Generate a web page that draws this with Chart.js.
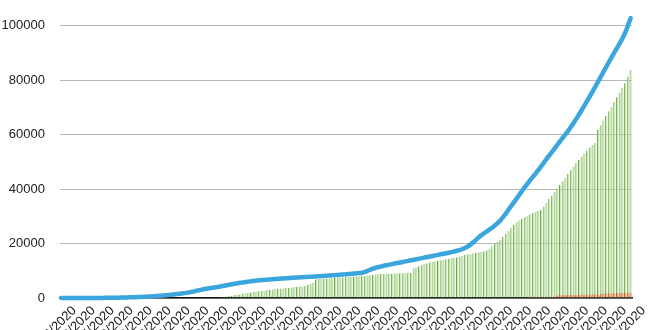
<!DOCTYPE html>
<html>
<head>
<meta charset="utf-8">
<script src="https://cdn.jsdelivr.net/npm/chart.js@4.4.1/dist/chart.umd.min.js"></script>
<style>
  html, body { margin: 0; padding: 0; background: #fff; overflow: hidden; }
  #wrap { width: 660px; height: 330px; position: relative; }
</style>
</head>
<body>
<div id="wrap"><canvas id="myChart"></canvas></div>
<script>
// daily values, 1/22/2020 .. 8/19/2020
const startDate = '2020-01-22';
const dayCount = 211;

// tick labels, one every 7 days
const weekLabels = [
    '1/22/2020', '1/29/2020', '2/5/2020', '2/12/2020', '2/19/2020', '2/26/2020',
    '3/4/2020', '3/11/2020', '3/18/2020', '3/25/2020', '4/1/2020', '4/8/2020',
    '4/15/2020', '4/22/2020', '4/29/2020', '5/6/2020', '5/13/2020', '5/20/2020',
    '5/27/2020', '6/3/2020', '6/10/2020', '6/17/2020', '6/24/2020', '7/1/2020',
    '7/8/2020', '7/15/2020', '7/22/2020', '7/29/2020', '8/5/2020', '8/12/2020',
    '8/19/2020'
];

// blue line
const totalCases = [
    0, 0, 0, 1, 2, 3, 4, 6, 8, 10,
    13, 17, 22, 28, 35, 42, 50, 60, 72, 85,
    100, 120, 145, 170, 200, 230, 265, 300, 340, 385,
    430, 480, 530, 590, 650, 710, 790, 870, 960, 1050,
    1150, 1260, 1370, 1480, 1600, 1720, 1880, 2050, 2250, 2450,
    2700, 2900, 3100, 3300, 3480, 3650, 3800, 3950, 4100, 4300,
    4500, 4700, 4900, 5080, 5250, 5420, 5580, 5730, 5880, 6020,
    6150, 6280, 6400, 6500, 6600, 6680, 6750, 6830, 6900, 6980,
    7050, 7120, 7190, 7260, 7330, 7400, 7460, 7520, 7580, 7640,
    7700, 7760, 7820, 7880, 7940, 8000, 8060, 8120, 8190, 8260,
    8330, 8400, 8480, 8560, 8640, 8720, 8800, 8880, 8960, 9050,
    9150, 9300, 9600, 10000, 10400, 10800, 11100, 11350, 11600, 11850,
    12050, 12250, 12450, 12650, 12850, 13050, 13250, 13450, 13650, 13850,
    14050, 14250, 14450, 14650, 14850, 15050, 15250, 15450, 15650, 15850,
    16050, 16250, 16450, 16650, 16850, 17100, 17350, 17650, 18000, 18450,
    19000, 19700, 20500, 21400, 22300, 23100, 23800, 24500, 25200, 25900,
    26700, 27600, 28600, 29800, 31100, 32500, 33900, 35200, 36600, 38000,
    39400, 40800, 42100, 43400, 44600, 45800, 47100, 48400, 49700, 51100,
    52400, 53700, 55000, 56300, 57600, 58900, 60200, 61500, 62900, 64400,
    65900, 67500, 69100, 70800, 72500, 74200, 75900, 77700, 79500, 81300,
    83100, 84900, 86700, 88500, 90200, 91900, 93600, 95400, 97500, 100100, 102800
];

// green bars
const greenBars = [
    0, 0, 0, 0, 0, 0, 0, 0, 0, 0,
    0, 0, 0, 0, 0, 0, 0, 0, 0, 0,
    0, 0, 0, 0, 0, 0, 0, 0, 0, 0,
    0, 0, 0, 0, 0, 0, 0, 0, 0, 0,
    0, 0, 0, 0, 0, 0, 0, 0, 0, 0,
    0, 0, 0, 0, 0, 0, 100, 150, 200, 300,
    400, 550, 700, 900, 1100, 1250, 1400, 1550, 1700, 1900,
    2050, 2200, 2350, 2500, 2650, 2800, 2900, 3000, 3150, 3300,
    3400, 3500, 3600, 3700, 3800, 3900, 4000, 4100, 4200, 4300,
    4500, 4800, 5200, 5600, 6900, 7000, 7100, 7150, 7200, 7250,
    7300, 7400, 7500, 7600, 7650, 7700, 7750, 7800, 7850, 7950,
    8000, 8050, 8100, 8300, 8400, 8500, 8650, 8800, 8850, 8900,
    8950, 9000, 9000, 9050, 9050, 9100, 9100, 9100, 9150, 9150,
    10900, 11300, 11700, 12100, 12500, 12800, 13100, 13300, 13500, 13700,
    13900, 14050, 14200, 14400, 14600, 14800, 15000, 15200, 15500, 15800,
    16000, 16200, 16400, 16600, 16800, 17000, 17200, 17500, 18200, 19000,
    19800, 20600, 21300, 22400, 23500, 24700, 25800, 26800, 27800, 28500,
    29200, 29800, 30300, 30800, 31300, 31700, 32000, 32300, 33600, 35000,
    36400, 37600, 38900, 40300, 41600, 42900, 44200, 45600, 47000, 48300,
    49600, 50800, 52000, 53100, 54200, 55200, 56200, 56900, 61800, 63500,
    65200, 66900, 68600, 70300, 72000, 73700, 75400, 77200, 78900, 81300, 83800
];

// orange bars
const orangeBars = [
    0, 0, 0, 0, 0, 0, 0, 0, 0, 0, 0, 0, 0, 0, 0,
    0, 0, 0, 0, 0, 0, 0, 0, 0, 0, 0, 0, 0, 0, 0,
    0, 0, 0, 0, 0, 0, 0, 0, 0, 0, 0, 0, 0, 0, 0,
    0, 0, 0, 0, 0, 0, 0, 0, 0, 0, 0, 0, 0, 0, 0,
    0, 0, 0, 0, 0, 0, 0, 0, 0, 0, 0, 0, 0, 0, 0,
    0, 0, 0, 0, 0, 0, 0, 0, 0, 0, 0, 0, 0, 0, 0,
    0, 0, 0, 0, 0, 0, 0, 0, 0, 0, 0, 0, 0, 0, 0,
    0, 0, 0, 0, 0, 0, 0, 0, 0, 0, 0, 0, 0, 0, 0,
    0, 0, 0, 0, 0, 0, 0, 0, 0, 0, 0, 0, 0, 0, 0,
    0, 0, 0, 0, 0, 0, 0, 0, 0, 0, 0, 0, 0, 0, 0,
    0, 0, 0, 0, 0, 0, 0, 0, 0, 0, 0, 0, 0, 0, 0,
    250, 260, 270, 280, 290, 300, 310, 320, 330, 340,
    350, 360, 370, 380, 400, 420, 440, 460,
    1000, 1050, 1080, 1100, 1120, 1150, 1170, 1200, 1220, 1250,
    1280, 1300, 1320, 1350, 1380, 1400, 1450,
    1650, 1700, 1720, 1750, 1780, 1800, 1850, 1880, 1900, 1950, 2000
];

const yTicks = [0, 20000, 40000, 60000, 80000, 100000];

// daily category labels
const dayLabels = [];
const d0 = new Date(startDate + 'T00:00:00Z');
for (let i = 0; i < dayCount; i++) {
    const d = new Date(d0.getTime() + i * 86400000);
    dayLabels.push((d.getUTCMonth() + 1) + '/' + d.getUTCDate() + '/' + d.getUTCFullYear());
}

const ctx = document.getElementById('myChart').getContext('2d');

const myChart = new Chart(ctx, {
    data: {
        labels: dayLabels,
        datasets: [{
            type: 'line',
            data: totalCases,
            borderColor: '#3ba5de',
            borderWidth: 4.5,
            pointRadius: 0,
            tension: 0.2,
            borderCapStyle: 'round',
            borderJoinStyle: 'round',
            clip: false,
            order: 0
        }, {
            type: 'bar',
            data: orangeBars,
            backgroundColor: '#f2a477',
            borderColor: '#d9532a',
            borderWidth: {left: 1, right: 0, top: 0, bottom: 0},
            borderSkipped: false,
            grouped: false,
            barPercentage: 1,
            categoryPercentage: 0.85,
            order: 1
        }, {
            type: 'bar',
            data: greenBars,
            backgroundColor: '#cde6bc',
            borderColor: '#66ab41',
            borderWidth: {left: 1, right: 0, top: 0, bottom: 0},
            borderSkipped: false,
            grouped: false,
            barPercentage: 1,
            categoryPercentage: 0.85,
            order: 2
        }]
    },
    options: {
        responsive: true,
        maintainAspectRatio: false,
        animation: false,
        layout: {
            padding: {top: 4, right: 28, left: 0, bottom: 0}
        },
        plugins: {
            legend: {display: false},
            tooltip: {enabled: false}
        },
        scales: {
            x: {
                grid: {display: false, drawTicks: false},
                border: {display: true, color: '#111', width: 1.5},
                afterFit: (axis) => { axis.height = 32; },
                ticks: {
                    autoSkip: false,
                    maxRotation: 45,
                    minRotation: 45,
                    padding: 5,
                    labelOffset: 13,
                    color: '#222',
                    font: {family: 'Liberation Sans, Arial, sans-serif', size: 13},
                    callback: function (value, index) {
                        return weekLabels.includes(dayLabels[index]) ? dayLabels[index] : '';
                    }
                }
            },
            y: {
                min: 0,
                max: 108000,
                afterFit: (axis) => {
                    axis.width = 60;
                    axis.paddingTop = 0;
                    axis.paddingBottom = 0;
                },
                afterBuildTicks: (axis) => {
                    axis.ticks = yTicks.map(v => ({value: v}));
                },
                grid: {color: '#b8b8b8', lineWidth: 1, drawTicks: false},
                border: {display: false},
                ticks: {
                    padding: 15,
                    color: '#222',
                    font: {family: 'Liberation Sans, Arial, sans-serif', size: 13},
                    callback: (v) => String(v)
                }
            }
        }
    }
});
</script>
</body>
</html>
